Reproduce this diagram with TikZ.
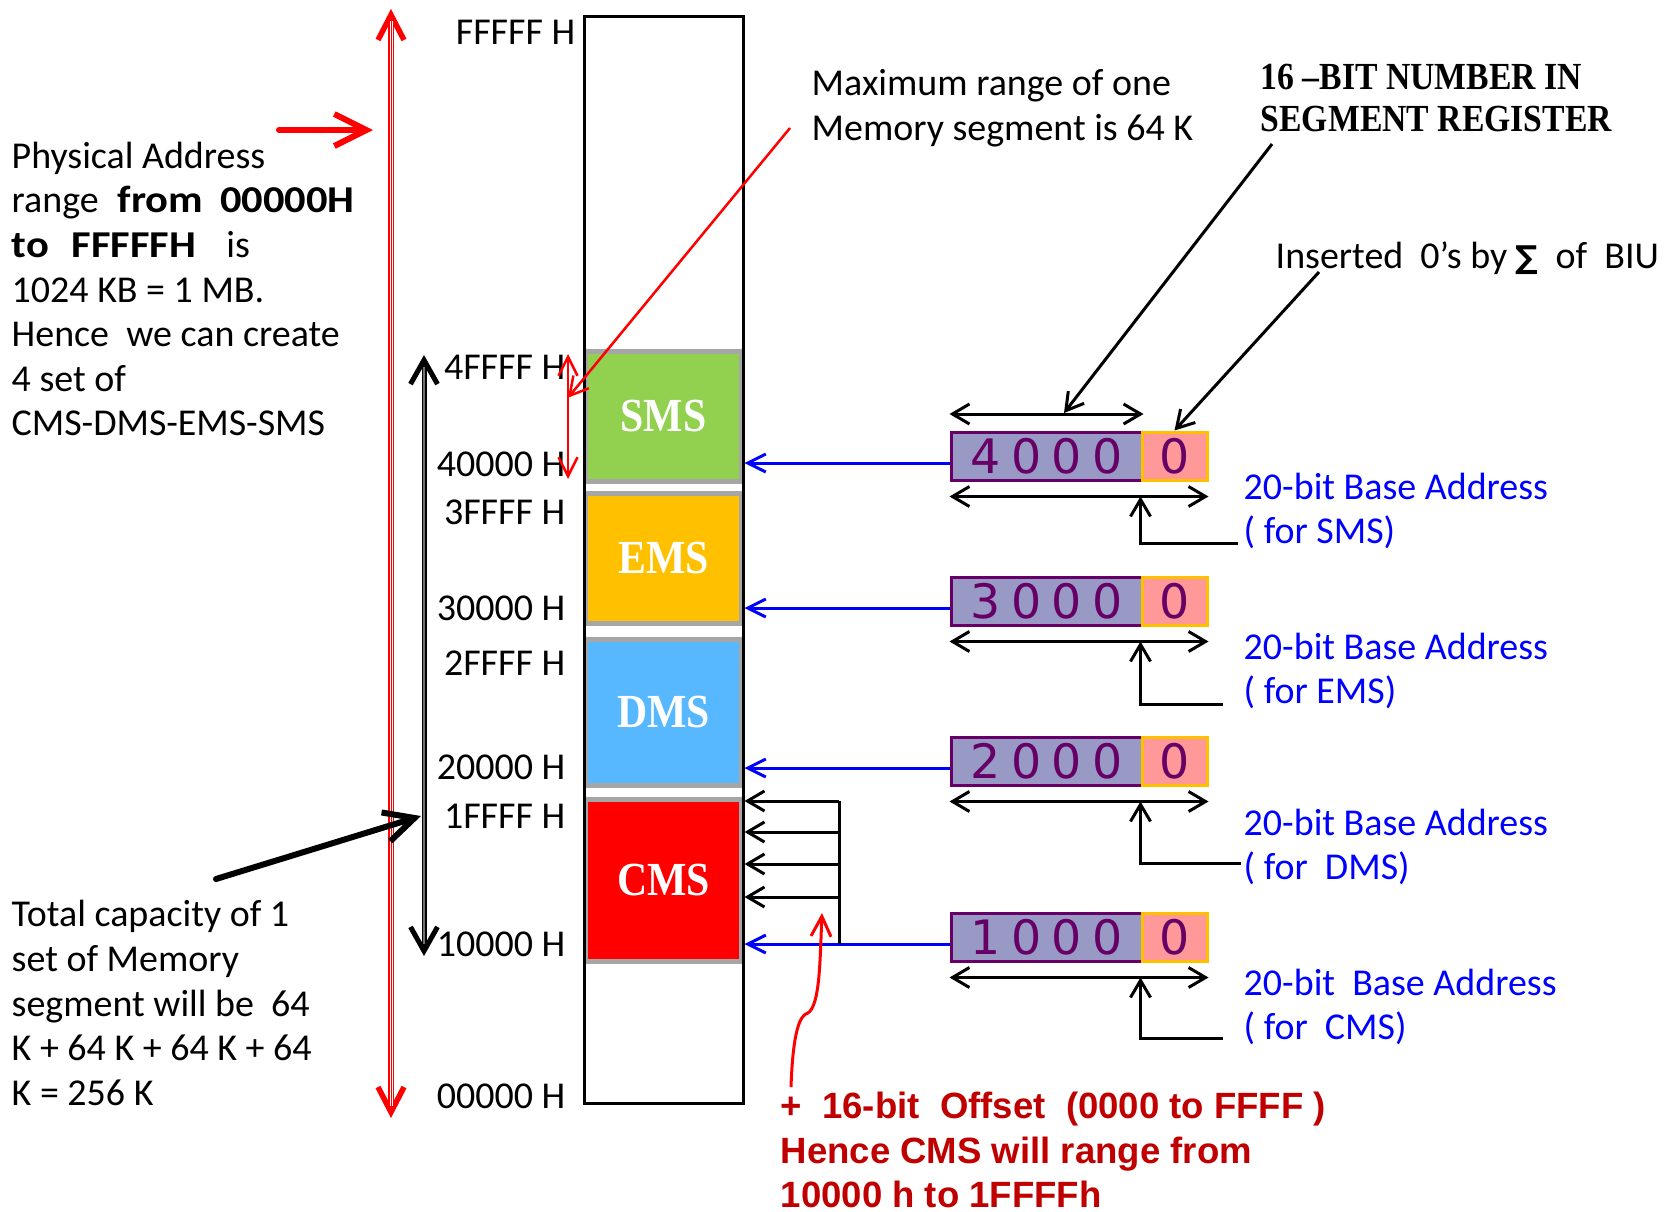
\documentclass[tikz,border=0pt]{standalone}
\usepackage{fontspec}
\setmainfont{Carlito}
\newfontfamily\segfont[FakeStretch=0.88]{Liberation Serif}
\newfontfamily\regfont{DejaVu Sans}
\newfontfamily\notefont{Liberation Sans}
\newfontfamily\widebold[FakeStretch=1.12]{Carlito}
\usetikzlibrary{arrows.meta,positioning,calc}
\definecolor{smsc}{HTML}{92D050}
\definecolor{emsc}{HTML}{FFC000}
\definecolor{dmsc}{HTML}{58B8FF}
\definecolor{cmsc}{HTML}{FF0000}
\definecolor{regc}{HTML}{9999C6}
\definecolor{regtxt}{HTML}{660066}
\definecolor{zeroc}{HTML}{FF9999}
\definecolor{notec}{HTML}{C00000}
\definecolor{basec}{HTML}{0000FF}
\newcommand{\dgap}{\kern3pt}
\newcommand{\wb}[1]{{\widebold\bfseries #1}}
\tikzset{
  seg/.style={draw=black!35,line width=0.5mm,fill=#1,minimum width=15.6mm,inner sep=0pt,
              text=white,font=\segfont\bfseries\fontsize{13.5}{15}\selectfont},
  addr/.style={anchor=east,inner sep=0pt},
  note/.style={anchor=west,align=left,inner sep=0pt},
  regbox/.style={draw=regtxt,line width=0.3mm,fill=regc,minimum width=19.1mm,minimum height=4.8mm,
                 inner sep=0pt,text=regtxt,font=\regfont\fontsize{13.5}{14}\selectfont},
  zerobox/.style={draw=emsc,line width=0.3mm,fill=zeroc,minimum width=6.5mm,minimum height=4.8mm,
                  inner sep=0pt,text=regtxt,font=\regfont\fontsize{13.5}{14}\selectfont},
  ptr/.style={-{Straight Barb[length=1.7mm,width=2mm]},line width=0.3mm},
  dimarr/.style={{Straight Barb[length=1.7mm,width=2mm]}-{Straight Barb[length=1.7mm,width=2mm]},line width=0.3mm},
  basearr/.style={-{Straight Barb[length=1.8mm,width=1.8mm]},line width=0.3mm,draw=basec},
  bigarr/.style={line cap=round,line width=#1},
}
\begin{document}
\begin{tikzpicture}[x=0.1mm,y=-0.1mm,font=\fontsize{10.8}{12.7}\selectfont]
  \useasboundingbox (0,0) rectangle (1670,1211);
  % memory map
  \node[seg=smsc,minimum height=13mm] (sms) at (663.5,416) {SMS};
  \node[seg=emsc,minimum height=13mm] (ems) at (663.5,558) {EMS};
  \node[seg=dmsc,minimum height=14.6mm] (dms) at (663.5,712) {DMS};
  \node[seg=cmsc,minimum height=16.2mm] (cms) at (663.5,880) {CMS};
  \node[draw,line width=0.3mm,minimum width=15.9mm,minimum height=108.7mm,inner sep=0pt] (mem) at (663.5,559.5) {};
  \node[addr] (aF) at (576,32) {FFFFF H};
  \foreach \t/\y in {4FFFF H/367,40000 H/464,3FFFF H/512,30000 H/608,2FFFF H/663,
                     20000 H/767,1FFFF H/816,10000 H/944,00000 H/1096}
    \node[addr] (a\y) at (566,\y) {\t};
  % range arrows
  \coordinate (phtop) at (391,9); \coordinate (phbot) at (391,1118);
  \draw[red,bigarr=0.55mm,{Straight Barb[length=2.5mm,width=2.6mm]}-{Straight Barb[length=2.5mm,width=2.6mm]}] (phtop) -- (phbot);
  \draw[white,line width=0.3mm,shorten <=1.2mm,shorten >=1.2mm] (phtop) -- (phbot);
  \draw[red,line width=0.1mm,shorten <=1.2mm,shorten >=1.2mm] (phtop) -- (phbot);
  \coordinate (sttop) at (424,355); \coordinate (stbot) at (424,956);
  \draw[bigarr=0.5mm,{Straight Barb[length=2.4mm,width=2.7mm]}-{Straight Barb[length=2.4mm,width=2.7mm]}] (sttop) -- (stbot);
  \draw[black!55,line width=0.15mm,shorten <=1.2mm,shorten >=1.2mm] (sttop) -- (stbot);
  \coordinate (smtop) at (568,354); \coordinate (smbot) at (568,479);
  \draw[red,line width=0.25mm,{Straight Barb[length=1.9mm,width=1.9mm]}-{Straight Barb[length=1.9mm,width=1.9mm]}] (smtop) -- (smbot);
  % left notes
  \node[note] (phys) at (11,289) {Physical Address\\
    range\hspace{0.5em}\wb{from\hspace{0.45em}00000H}\\
    \wb{to\hspace{0.6em}FFFFFH}\hspace{0.8em}is\\
    1024 KB = 1 MB.\\
    Hence~~we can create\\
    4 set of\\
    CMS-DMS-EMS-SMS};
  \coordinate (pha) at (279,130); \coordinate (phb) at (373,130);
  \draw[red,bigarr=0.6mm,-{Straight Barb[length=3.2mm,width=3.2mm]}] (pha) -- (phb);
  \node[note] (total) at (11,1003) {Total capacity of 1\\
    set of Memory\\
    segment will be~~64\\
    K + 64 K + 64 K + 64\\
    K = 256 K};
  \coordinate (tota) at (216,879); \coordinate (totb) at (421,816);
  \draw[bigarr=0.6mm,-{Straight Barb[length=3mm,width=3mm]}] (tota) -- (totb);
  % top notes
  \node[note] (maxr) at (811,108) {Maximum range of one\\Memory segment is 64 K};
  \coordinate (mxa) at (790,128);
  \draw[red,line width=0.25mm,-{Straight Barb[length=1.8mm,width=2mm]}] (mxa) -- ($(smtop)!0.35!(smbot)$);
  \node[note,font=\segfont\bfseries\fontsize{10.9}{11.9}\selectfont] (sreg) at (1260,98) {16 –BIT NUMBER IN\\SEGMENT REGISTER};
  \node[note] (ins) at (1275,258) {Inserted~~0’s by~{\regfont\bfseries\fontsize{9}{10}\selectfont ∑}~~of~~BIU};
  % registers
  \foreach \n/\y/\v/\e/\ex in {1/456/4/543/1238,2/601/3/704/1223,3/761/2/863/1241,4/937/1/1038/1223}{
    \node[regbox] (r\n) at (1046.5,\y) {\v\dgap0\dgap0\dgap0};
    \node[zerobox] (z\n) at (1174.5,\y) {0};
    \coordinate (bl\n) at ([yshift=-0.7mm]r\n.west);
    \draw[basearr] (bl\n) -- (bl\n -| mem.east);
    \draw[dimarr] ([yshift=-1.5mm]r\n.south west) -- ([yshift=-1.5mm]z\n.south east);
    \coordinate (e\n) at (\ex,\e);
    \draw[ptr] (e\n) -| ([yshift=-1.5mm]z\n.south west);
  }
  \draw[dimarr] ([yshift=1.65mm]r1.north west) -- ([yshift=1.65mm]r1.north east);
  \coordinate (sra) at (1272,144); \coordinate (srb) at (1064,413);
  \draw[ptr] (sra) -- (srb);
  \coordinate (insa) at (1319,272);
  \draw[ptr] (insa) -- (z1.north);
  \node[note,text=basec] (b1) at (1243,511) {20-bit Base Address\\( for SMS)};
  \node[note,text=basec] (b2) at (1243,671) {20-bit Base Address\\( for EMS)};
  \node[note,text=basec] (b3) at (1243,847) {20-bit Base Address\\( for~~DMS)};
  \node[note,text=basec] (b4) at (1243,1007) {20-bit~~Base Address\\( for~~CMS)};
  % offset taps into CMS
  \coordinate (tp0) at (839,801); \coordinate (tp1) at (839,944);
  \draw[line width=0.3mm] (tp0) -- (tp1);
  \foreach \y in {801,832,864,897}{
    \coordinate (t\y) at (839,\y);
    \draw[ptr] (t\y) -- (t\y -| mem.east);
  }
  % offset note
  \node[note,text=notec,font=\notefont\bfseries\fontsize{10.4}{12.7}\selectfont] (offs) at (780,1150)
    {+~~16-bit~~Offset~~(0000 to FFFF~)\\Hence CMS will range from\\10000 h to 1FFFFh};
  \coordinate (ofa) at (791,1087); \coordinate (ofb) at (822,913);
  \draw[red,line width=0.3mm,-{Straight Barb[length=2mm,width=2mm]}] (ofa) .. controls (793,1030) and (800,1015) .. (808,1013)
    .. controls (820,1005) and (820,960) .. (ofb);
\end{tikzpicture}
\end{document}
